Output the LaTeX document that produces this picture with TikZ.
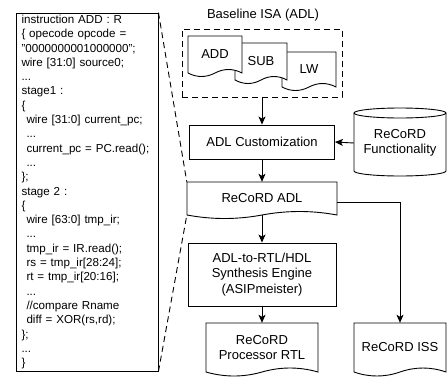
\documentclass[tikz,border=0pt]{standalone}
\usepackage{fontspec}
\setmainfont{Liberation Sans}
\usetikzlibrary{arrows.meta,calc}
\newcommand\boxfont{\fontsize{13}{15.5}\selectfont}
\newcommand\codefont{\fontsize{11.6}{14.3}\selectfont}
\newcommand\ind{\hspace*{5pt}}
\tikzset{
  ln/.style={line width=0.9pt},
  arr/.style={ln, -{Stealth[length=8pt,width=7pt,inset=2pt]}},
  procbox/.style={draw, ln, inner sep=0pt, align=center, font=\boxfont},
  doctext/.style={inner sep=0pt, align=center, font=\boxfont},
  dashln/.style={ln, dash pattern=on 6pt off 4pt},
}
% name, x1, y1, x2, yb, amplitude, text
\newcommand\docnode[7]{%
  \pgfmathsetmacro\docDx{(#4-#2)/6}%
  \pgfmathsetmacro\docX{(#2+#4)/2}%
  \pgfmathsetmacro\docK{#6*4/3}%
  \pgfmathsetmacro\docY{(#3+#5)/2}%
  \pgfmathsetmacro\docW{#4-#2}%
  \pgfmathsetmacro\docH{#5-#3}%
  \filldraw[ln, fill=white] (#2,#3) -- (#4,#3) -- (#4,#5)
    .. controls (#4-\docDx,#5-\docK) and (\docX+\docDx,#5-\docK) .. (\docX,#5)
    .. controls (\docX-\docDx,#5+\docK) and (#2+\docDx,#5+\docK) .. (#2,#5) -- cycle;
  \node[doctext, minimum width=\docW pt, minimum height=\docH pt] (#1) at (\docX,\docY) {#7};
}
\begin{document}
\begin{tikzpicture}[x=1pt, y=-1pt]
\useasboundingbox (0,0) rectangle (447,381);

% code box
\node[draw, ln, text width=138pt, inner xsep=2pt, inner ysep=0pt, minimum height=358pt, align=left, font=\codefont] (code) at (87,192) {%
\hspace*{3.5pt}instruction ADD : R\\
\hspace*{3.5pt}\{ opecode opcode =\\
\hspace*{3.5pt}"0000000001000000";\\
\hspace*{3.5pt}wire [31:0] source0;\\
\hspace*{3.5pt}...\\
\hspace*{3.5pt}stage1 :\\
\hspace*{3.5pt}\{\\
\hspace*{3.5pt}\ind wire [31:0] current\_pc;\\
\hspace*{3.5pt}\ind ...\\
\hspace*{3.5pt}\ind current\_pc = PC.read();\\
\hspace*{3.5pt}\ind ...\\
\hspace*{3.5pt}\};\\
\hspace*{3.5pt}stage 2 :\\
\hspace*{3.5pt}\{\\
\hspace*{3.5pt}\ind wire [63:0] tmp\_ir;\\
\hspace*{3.5pt}\ind ...\\
\hspace*{3.5pt}\ind tmp\_ir = IR.read();\\
\hspace*{3.5pt}\ind rs = tmp\_ir[28:24];\\
\hspace*{3.5pt}\ind rt = tmp\_ir[20:16];\\
\hspace*{3.5pt}\ind ...\\
\hspace*{3.5pt}\ind //compare Rname\\
\hspace*{3.5pt}\ind diff = XOR(rs,rd);\\
\hspace*{3.5pt}\};\\
\hspace*{3.5pt}...\\
\hspace*{3.5pt}\}};

% baseline ISA
\node[font=\boxfont, inner sep=0pt] (isatitle) at (263,15) {Baseline ISA (ADL)};
\node[draw, dashln, minimum width=160pt, minimum height=68pt, inner sep=0pt] (isa) at (262,63) {};
\docnode{lw}{282}{52}{336}{87}{3.5}{LW}
\docnode{sub}{235}{43}{287}{80}{3.5}{SUB}
\docnode{add}{188}{36}{242}{73}{3.5}{ADD}

% customization
\node[procbox, minimum width=145pt, minimum height=34pt] (cust) at (262,142) {ADL Customization};

% cylinder
\filldraw[ln, fill=white] (354,113) -- (354,171) arc[start angle=180, end angle=360, x radius=46pt, y radius=5pt] -- (446,113);
\draw[ln] (400,113) ellipse [x radius=46pt, y radius=5pt];
\node[doctext, minimum width=92pt, minimum height=58pt] (func) at (400,143) {ReCoRD\\Functionality};

% ReCoRD ADL
\docnode{adl}{187}{182}{337}{215}{3.5}{ReCoRD ADL}

% synthesis
\node[procbox, minimum width=148pt, minimum height=63pt] (syn) at (262,274.5) {ADL-to-RTL/HDL\\Synthesis Engine\\(ASIPmeister)};

% outputs
\docnode{rtl}{206}{323}{318}{372}{4}{ReCoRD\\Processor RTL}
\docnode{iss}{354}{323}{446}{372}{4}{ReCoRD ISS}

% connectors
\draw[arr] (isa.south) -- (cust.north);
\draw[arr] (func.west) -- (cust.east);
\draw[arr] (cust.south) -- (adl.north);
\draw[arr] (adl.south) -- (syn.north);
\draw[arr] (syn.south) -- (rtl.north);
\draw[arr] ([yshift=-3.5pt]adl.east) -| (iss.north);

% dashed zoom lines
\draw[dashln] (code.north east) -- (adl.north west);
\draw[dashln] (code.south east) -- (adl.south west);
\end{tikzpicture}
\end{document}
